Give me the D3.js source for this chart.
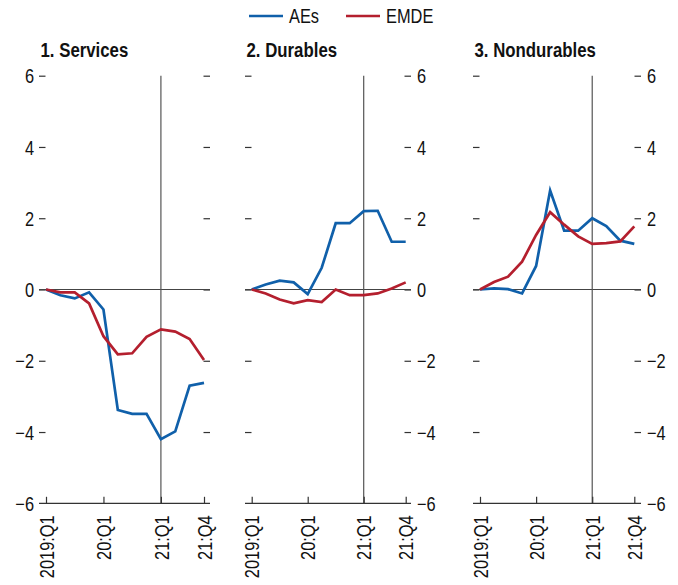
<!DOCTYPE html>
<html>
<head>
<meta charset="utf-8">
<script src="https://cdn.jsdelivr.net/npm/d3@7"></script>
<style>
  html, body { margin: 0; padding: 0; background: #fff; }
  svg { display: block; }
  text { font-family: "Liberation Sans", Arial, sans-serif; fill: #111; }
</style>
</head>
<body>
<svg id="chart" width="678" height="585"></svg>
<script>
// ---------------- data ----------------
const quarters = ["2019:Q1","19:Q2","19:Q3","19:Q4","20:Q1","20:Q2","20:Q3","20:Q4","21:Q1","21:Q2","21:Q3","21:Q4"];
const xTickIndex = [0, 4, 8, 11];
const xTickLabels = ["2019:Q1", "20:Q1", "21:Q1", "21:Q4"];
const yTicks = [-6, -4, -2, 0, 2, 4, 6];
const seriesNames = ["AEs", "EMDE"];
const panelTitles = ["1. Services", "2. Durables", "3. Nondurables"];

const servicesAEs  = [0, -0.16, -0.25, -0.08, -0.56, -3.38, -3.49, -3.49, -4.20, -3.98, -2.70, -2.62];
const servicesEMDE = [0, -0.08, -0.08, -0.39, -1.31, -1.82, -1.79, -1.33, -1.12, -1.18, -1.39, -1.98];
const durablesAEs  = [0, 0.14, 0.25, 0.20, -0.13, 0.61, 1.86, 1.86, 2.20, 2.21, 1.34, 1.34];
const durablesEMDE = [0, -0.11, -0.28, -0.39, -0.30, -0.35, 0.00, -0.16, -0.16, -0.11, 0.03, 0.20];
const nondurAEs    = [0, 0.03, 0.01, -0.11, 0.66, 2.78, 1.65, 1.65, 2.00, 1.78, 1.37, 1.28];
const nondurEMDE   = [0, 0.21, 0.36, 0.78, 1.53, 2.17, 1.82, 1.49, 1.28, 1.30, 1.35, 1.77];

const panelSeries = [
  [servicesAEs, servicesEMDE],
  [durablesAEs, durablesEMDE],
  [nondurAEs, nondurEMDE]
];

// ---------------- layout ----------------
const colors = ["#1060AA", "#B41F2E"];
const panels = [
  { x0: 46,    x11: 204,   left: 39,  right: 210, leftLabels: true,  rightLabels: false },
  { x0: 251.7, x11: 405.7, left: 245, right: 411, leftLabels: false, rightLabels: true },
  { x0: 480,   x11: 634.3, left: 473, right: 641, leftLabels: false, rightLabels: true }
];
const yTop = 75.7, yBot = 503.3;
const y = d3.scaleLinear().domain([-6, 6]).range([yBot, yTop]);
const fmt = d3.format("d");
const svg = d3.select("#chart");
const FS = 20;
const NARROW = 0.82;

// emulate a condensed face: move x/y into a transform and squeeze horizontally
function narrow(sel, pre) {
  sel.each(function () {
    const t = d3.select(this);
    const tx = +t.attr("x") || 0, ty = +t.attr("y") || 0;
    t.attr("x", 0).attr("y", 0)
     .attr("transform", `${pre || ""} translate(${tx},${ty}) scale(${NARROW},1)`);
  });
}

panels.forEach((p, pi) => {
  const x = d3.scaleLinear().domain([0, 11]).range([p.x0, p.x11]);
  const g = svg.append("g");

  // title
  g.append("text")
    .attr("x", p.left + 1.5).attr("y", 57)
    .attr("font-size", 20.5).attr("font-weight", "bold")
    .text(panelTitles[pi])
    .call(narrow);

  // left axis (ticks inward)
  const la = g.append("g").attr("transform", `translate(${p.left},0)`)
    .call(d3.axisLeft(y).tickValues(yTicks).tickSize(-6.5).tickPadding(5)
      .tickFormat(p.leftLabels ? fmt : () => ""));
  // right axis (ticks inward)
  const ra = g.append("g").attr("transform", `translate(${p.right},0)`)
    .call(d3.axisRight(y).tickValues(yTicks).tickSize(-6.5).tickPadding(6)
      .tickFormat(p.rightLabels ? fmt : () => ""));
  [la, ra].forEach(a => {
    a.select(".domain").remove();
    a.selectAll("line").attr("stroke", "#333").attr("stroke-width", 1.2);
    a.selectAll("text").attr("font-size", FS).attr("font-family", null).style("fill", "#111")
      .attr("dy", null).attr("dominant-baseline", "central").call(narrow);
  });
  la.selectAll(".tick").filter(d => d === -6).select("line").remove();
  ra.selectAll(".tick").filter(d => d === -6).select("line").remove();

  // zero line
  g.append("line")
    .attr("x1", p.left).attr("x2", p.right)
    .attr("y1", y(0)).attr("y2", y(0))
    .attr("stroke", "#444").attr("stroke-width", 1.2);

  // vertical line at 21:Q1
  g.append("line")
    .attr("x1", x(8)).attr("x2", x(8))
    .attr("y1", y(6)).attr("y2", y(-6))
    .attr("stroke", "#555").attr("stroke-width", 1.2);

  // bottom axis
  const ba = g.append("g").attr("transform", `translate(0,${yBot})`)
    .call(d3.axisBottom(x).tickValues(xTickIndex).tickSize(-6.5).tickPadding(0)
      .tickFormat((d, i) => xTickLabels[i]));
  ba.select(".domain").remove();
  ba.selectAll("line").attr("stroke", "#333").attr("stroke-width", 1.2);
  ba.selectAll("text")
    .attr("font-size", FS).attr("font-family", null).style("fill", "#111")
    .attr("text-anchor", "end")
    .attr("dy", null).attr("dominant-baseline", "central")
    .attr("x", -12).attr("y", 0)
    .call(narrow, "rotate(-90)");
  g.append("line")
    .attr("x1", p.left).attr("x2", p.right)
    .attr("y1", yBot).attr("y2", yBot)
    .attr("stroke", "#333").attr("stroke-width", 1.3);

  // series lines
  const line = d3.line().x((d, i) => x(i)).y(d => y(d));
  panelSeries[pi].forEach((vals, si) => {
    g.append("path").datum(vals)
      .attr("d", line)
      .attr("fill", "none")
      .attr("stroke", colors[si])
      .attr("stroke-width", 2.7)
      .attr("stroke-linejoin", "miter");
  });
});

// legend
const legendItems = [
  { name: seriesNames[0], color: colors[0], x: 249 },
  { name: seriesNames[1], color: colors[1], x: 346 }
];
legendItems.forEach(it => {
  svg.append("line")
    .attr("x1", it.x).attr("x2", it.x + 34)
    .attr("y1", 16).attr("y2", 16)
    .attr("stroke", it.color).attr("stroke-width", 2.7);
  svg.append("text")
    .attr("x", it.x + 40).attr("y", 16)
    .attr("font-size", FS)
    .attr("dominant-baseline", "central")
    .text(it.name)
    .call(narrow);
});
</script>
</body>
</html>
